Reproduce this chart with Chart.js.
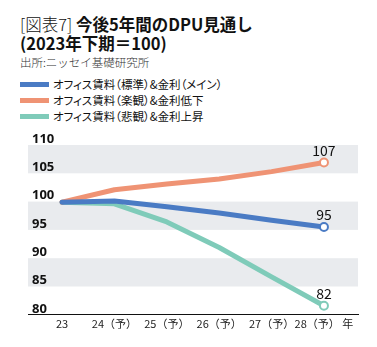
<!DOCTYPE html>
<html><head><meta charset="utf-8">
<script src="https://cdn.jsdelivr.net/npm/chart.js@4/dist/chart.umd.min.js"></script>
<style>
html,body{margin:0;padding:0;background:#fff;width:377px;height:347px;overflow:hidden;font-family:"Noto Sans CJK JP","Noto Sans",sans-serif;}
.abs{position:absolute;white-space:nowrap;}
#t1{left:20px;top:14px;font-size:16.5px;line-height:20px;color:#111;}
#t1 .thin{font-weight:300;}
#t1 b{font-weight:700;}
#t2{left:20px;top:33px;font-size:16.5px;line-height:20px;font-weight:700;color:#111;}
#src{left:20px;top:55px;font-size:11.5px;line-height:14px;color:#333;font-weight:300;}
#legend{left:20px;top:76px;font-size:11.5px;color:#111;font-feature-settings:"palt";}
.li{height:16px;line-height:16px;display:flex;align-items:center;}
.sw{width:29px;height:5px;margin-right:4px;}
#wrap{position:absolute;left:0;top:125px;width:377px;height:222px;}
</style></head>
<body>
<div id="t1" class="abs"><span class="thin">[図表7]</span> <b>今後5年間のDPU見通し</b></div>
<div id="t2" class="abs">(2023年下期＝100)</div>
<div id="src" class="abs">出所:ニッセイ基礎研究所</div>
<div id="legend" class="abs"></div>
<div id="wrap"><canvas id="c" width="377" height="222"></canvas></div>
<script>
const xLabels = ["23", "24（予）", "25（予）", "26（予）", "27（予）", "28（予） 年"];
const seriesNames = ["オフィス賃料（標準）&金利（メイン）", "オフィス賃料（楽観）&金利低下", "オフィス賃料（悲観）&金利上昇"];
const mainValues = [99.9, 100.1, 99.1, 98.0, 96.7, 95.5];
const optimisticValues = [99.9, 102.1, 103.1, 104.0, 105.3, 106.9];
const pessimisticValues = [99.9, 99.6, 96.4, 91.9, 86.7, 81.6];
const endLabels = ["95", "107", "82"];
const yTicks = [80, 85, 90, 95, 100, 105, 110];
const bandRanges = [[105, 110], [95, 100], [85, 90]];

const colors = ["#4a7bc4", "#ef9374", "#7fcbb9"];
const allValues = [mainValues, optimisticValues, pessimisticValues];

const legend = document.getElementById('legend');
seriesNames.forEach((n, i) => {
  const d = document.createElement('div'); d.className = 'li';
  const s = document.createElement('span'); s.className = 'sw'; s.style.background = colors[i];
  const t = document.createElement('span'); t.textContent = n;
  d.appendChild(s); d.appendChild(t); legend.appendChild(d);
});

const bandsPlugin = {
  id: 'bands',
  beforeDraw(chart) {
    const {ctx, chartArea, scales} = chart;
    ctx.save();
    ctx.fillStyle = '#e9ebee';
    bandRanges.forEach(([a, b]) => {
      const y1 = scales.y.getPixelForValue(b), y2 = scales.y.getPixelForValue(a);
      ctx.fillRect(chartArea.left, y1, chartArea.right - chartArea.left, y2 - y1);
    });
    ctx.restore();
  }
};
const endLabelPlugin = {
  id: 'endLabels',
  afterDatasetsDraw(chart) {
    const ctx = chart.ctx;
    ctx.save();
    ctx.font = '14px "Noto Sans CJK JP", sans-serif';
    ctx.fillStyle = '#111';
    ctx.textAlign = 'center';
    ctx.textBaseline = 'bottom';
    chart.data.datasets.forEach((ds, i) => {
      const meta = chart.getDatasetMeta(i);
      const pt = meta.data[meta.data.length - 1];
      ctx.fillText(endLabels[i], pt.x, pt.y - 5);
    });
    ctx.restore();
  }
};

const datasets = allValues.map((vals, i) => ({
  label: seriesNames[i],
  data: vals.map((v, j) => ({x: j, y: v})),
  borderColor: colors[i],
  backgroundColor: '#fff',
  borderWidth: 5,
  borderCapStyle: 'round',
  borderJoinStyle: 'round',
  pointRadius: vals.map((v, j) => j === vals.length - 1 ? 4 : 0),
  pointBorderWidth: 2,
  pointBackgroundColor: '#fff',
  pointBorderColor: colors[i],
  tension: 0,
  clip: false
}));

new Chart(document.getElementById('c'), {
  type: 'line',
  data: {datasets},
  plugins: [bandsPlugin, endLabelPlugin],
  options: {
    responsive: false,
    animation: false,
    events: [],
    layout: {padding: {left: 20, right: 19, top: 20, bottom: 15}},
    plugins: {legend: {display: false}, tooltip: {enabled: false}},
    scales: {
      x: {
        type: 'linear', min: -0.65, max: 5.65,
        afterBuildTicks(scale) { scale.ticks = xLabels.map((l, i) => ({value: i})); },
        grid: {display: false, drawTicks: false},
        border: {display: true, color: '#111', width: 1},
        ticks: {
          padding: 2, color: '#222', maxRotation: 0, autoSkip: false,
          font: {family: '"Noto Sans CJK JP", sans-serif', size: 11},
          callback: (v) => xLabels[v]
        }
      },
      y: {
        min: 80, max: 110,
        afterBuildTicks(scale) { scale.ticks = yTicks.map(v => ({value: v})); },
        grid: {display: false, drawTicks: false},
        border: {display: false},
        ticks: {
          mirror: true, padding: 4, labelOffset: -6, color: '#111', autoSkip: false,
          font: {family: '"Open Sans", "Noto Sans", sans-serif', size: 13, weight: 'bold'}
        }
      }
    }
  }
});
</script>
</body></html>
